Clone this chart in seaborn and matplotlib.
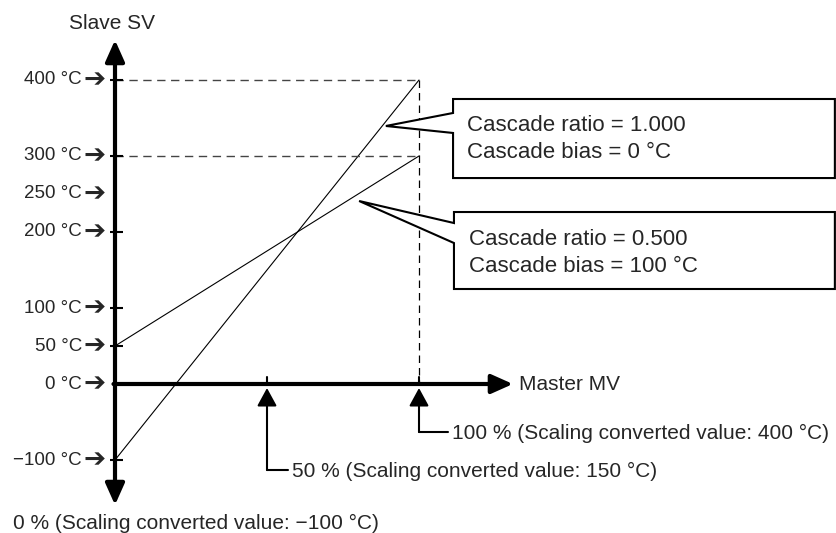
import matplotlib
matplotlib.use("Agg")
import matplotlib.pyplot as plt
from matplotlib.patches import Polygon
import numpy as np
import pandas as pd
import seaborn as sns

# Master MV in percent and the slave SV it produces for two cascade settings
master_pct = [0, 100]
master_scaled = [-100, 400]           # scaling converted values (°C)
sv_ratio_1000 = [-100, 400]           # ratio 1.000, bias 0 °C
sv_ratio_0500 = [50, 300]             # ratio 0.500, bias 100 °C

sv_ticks = [400, 300, 250, 200, 100, 50, 0, -100]
sv_tick_labels = ["400 °C", "300 °C", "250 °C", "200 °C", "100 °C", "50 °C", "0 °C", "\u2212100 °C"]
sv_tick_marks = [400, 300, 200, 100, 50, -100]

mv_marks = [50, 100]
mv_labels = [
    "50 % (Scaling converted value: 150 °C)",
    "100 % (Scaling converted value: 400 °C)",
]
mv_zero_label = "0 % (Scaling converted value: \u2212100 °C)"

box_texts = [
    "Cascade ratio = 1.000\nCascade bias = 0 °C",
    "Cascade ratio = 0.500\nCascade bias = 100 °C",
]

sns.set_theme(style="white")
plt.rcParams["font.family"] = ["Liberation Sans", "DejaVu Sans"]

fig = plt.figure(figsize=(8.36, 5.33), dpi=100)
ax = fig.add_axes([0, 0, 1, 1])
ax.set_xlim(-37.83, 237.17)
ax.set_ylim(-196.05, 505.26)
ax.axis("off")

df = pd.DataFrame({
    "Master MV": master_pct * 2,
    "Slave SV": sv_ratio_1000 + sv_ratio_0500,
    "setting": ["r1"] * 2 + ["r05"] * 2,
})
sns.lineplot(data=df, x="Master MV", y="Slave SV", hue="setting",
             palette=["black", "black"], linewidth=0.8, legend=False, ax=ax)

# dashed guides at 100 %
dash_kw = dict(color="#444444", linewidth=1.0, dashes=(6, 4))
ax.plot([0, 100], [400, 400], **dash_kw)
ax.plot([0, 100], [300, 300], **dash_kw)
ax.plot([100, 100], [400, 0], color="black", linewidth=0.9, dashes=(6, 4))

# axes with arrowheads
ax.annotate("", xy=(0, 452.6), xytext=(0, -159.2),
            arrowprops=dict(arrowstyle="<|-|>,head_length=0.65,head_width=0.29",
                            lw=3, color="black", mutation_scale=20,
                            shrinkA=0, shrinkB=0))
ax.annotate("", xy=(130.9, 0), xytext=(-0.5, 0),
            arrowprops=dict(arrowstyle="-|>,head_length=0.65,head_width=0.29",
                            lw=3, color="black", mutation_scale=20,
                            shrinkA=0, shrinkB=0))

# y ticks
for v in sv_tick_marks:
    ax.plot([-1.6, 2.6], [v, v], color="black", linewidth=1.5, solid_capstyle="butt")

for v, lab in zip(sv_ticks, sv_tick_labels):
    ax.text(-10.9, v, lab, ha="right", va="center", fontsize=13.5)
    ax.text(-3.0, v, "\u2794", ha="right", va="center", fontsize=19,
            family="DejaVu Sans")

ax.text(-1.0, 473.7, "Slave SV", ha="center", va="center", fontsize=15)
ax.text(132.9, 0, "Master MV", ha="left", va="center", fontsize=15)

# master MV markers with leaders
leader_y = [-113.2, -63.2]
leader_end = [56.9, 109.5]
for x, lab, ly, le in zip(mv_marks, mv_labels, leader_y, leader_end):
    ax.plot([x, x], [0, 9], color="black", linewidth=1.5)
    ax.annotate("", xy=(x, -5.3), xytext=(x, ly),
                arrowprops=dict(arrowstyle="-|>,head_length=0.55,head_width=0.3",
                                lw=1.5, color="black", mutation_scale=20,
                                shrinkA=0, shrinkB=0))
    ax.plot([x, le], [ly, ly], color="black", linewidth=1.5)
    ax.text(le + 1.3, ly - 2.5, lab, ha="left", va="center", fontsize=15)

ax.text(-33.6, -183, mv_zero_label, ha="left", va="center", fontsize=15)

# callout boxes
callouts = [
    # box x0, x1, ytop, ybot, join high, join low, apex x, apex y, text x, text y
    (111.2, 236.8, 375.0, 271.0, 356.6, 330.3, 89.1, 339.5, 115.8, 322.5),
    (111.5, 236.8, 226.3, 125.0, 211.8, 185.5, 80.3, 240.8, 116.4, 172.5),
]
for (x0, x1, yt, yb, jh, jl, axp, ayp, tx, ty), txt in zip(callouts, box_texts):
    poly = Polygon([(x0, yt), (x1, yt), (x1, yb), (x0, yb), (x0, jl),
                    (axp, ayp), (x0, jh)], closed=True,
                   facecolor="white", edgecolor="black", linewidth=1.5, zorder=5)
    ax.add_patch(poly)
    ax.text(tx, ty, txt, ha="left", va="center", fontsize=16,
            linespacing=1.42, zorder=6)

fig.savefig("out.png", dpi=100)
